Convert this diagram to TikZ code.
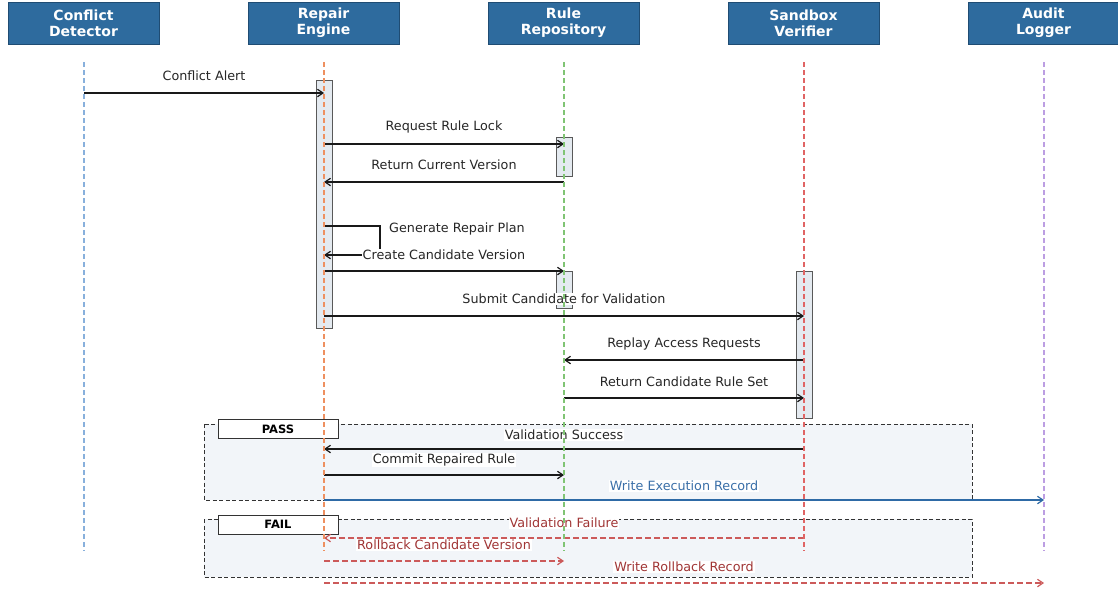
\documentclass[tikz,border=0pt]{standalone}
\usepackage{fontspec}
\setmainfont{DejaVu Sans}
\usetikzlibrary{arrows.meta}

\definecolor{hdrfill}{HTML}{2E6B9E}
\definecolor{hdrline}{HTML}{1F4C73}
\definecolor{lifeA}{HTML}{88B0DC}
\definecolor{lifeB}{HTML}{EE9060}
\definecolor{lifeC}{HTML}{80C474}
\definecolor{lifeD}{HTML}{E06464}
\definecolor{lifeE}{HTML}{BC9EE2}
\definecolor{actfill}{HTML}{E4EAF0}
\definecolor{framefill}{HTML}{F2F5F9}
\definecolor{okblue}{HTML}{2E6AA6}
\definecolor{okbluetext}{HTML}{3A6FA8}
\definecolor{failred}{HTML}{CC5A5A}
\definecolor{failredtext}{HTML}{A03535}

\tikzset{
  hdr/.style={draw=hdrline, line width=0.8pt, fill=hdrfill, text=white,
    minimum width=151pt, minimum height=42pt, inner sep=0pt, align=center,
    font=\fontsize{14}{16}\selectfont\bfseries},
  lifeline/.style={line width=1.2pt, dash pattern=on 5pt off 3pt},
  act/.style={draw=black!65, line width=1pt, fill=actfill, minimum width=16pt, inner sep=0pt},
  msg/.style={line width=1.4pt, black!90, -{Straight Barb[length=5.5pt,width=7.5pt,line width=1.2pt]}},
  okmsg/.style={msg, okblue},
  failmsg/.style={msg, failred, line width=1.3pt, dash pattern=on 6pt off 3pt},
  lbl/.style={fill=white, inner sep=1pt, font=\fontsize{12.75}{14}\selectfont, text=black!85},
  okl/.style={lbl, text=okbluetext},
  faill/.style={lbl, text=failredtext},
  frame/.style={draw=black!80, line width=1pt, dash pattern=on 4pt off 2.5pt, fill=framefill},
  tag/.style={draw=black!80, line width=1pt, fill=white, minimum width=120pt, minimum height=19pt,
    inner sep=0pt, font=\fontsize{11.5}{13}\selectfont\bfseries}
}

\begin{document}
\begin{tikzpicture}[x=1pt, y=-1pt]
\useasboundingbox (0,0) rectangle (1118,590);

% participants
\node[hdr] (cd) at (83.5,23)  {Conflict\\Detector};
\node[hdr] (re) at (323.5,23) {Repair\\Engine};
\node[hdr] (rr) at (563.5,23) {Rule\\Repository};
\node[hdr] (sv) at (803.5,23) {Sandbox\\Verifier};
\node[hdr] (al) at (1043.5,23) {Audit\\Logger};

% lifeline end points
\coordinate (cdT) at (84,62);   \coordinate (cdB) at (84,551);
\coordinate (reT) at (324,62);  \coordinate (reB) at (324,551);
\coordinate (rrT) at (564,62);  \coordinate (rrB) at (564,551);
\coordinate (svT) at (804,62);  \coordinate (svB) at (804,551);
\coordinate (alT) at (1044,62); \coordinate (alB) at (1044,551);

% combined fragments
\draw[frame] (204,424) rectangle (972,500);
\draw[frame] (204,519) rectangle (972,577);
\node[tag] (pass) at (278,429) {PASS};
\node[tag] (fail) at (278,524.5) {FAIL};

% activation bars
\node[act, minimum height=248pt] (actRE) at (324,204) {};
\node[act, minimum height=39pt]  (actRR1) at (564,156.5) {};
\node[act, minimum height=37pt]  (actRR2) at (564,289.5) {};
\node[act, minimum height=147pt] (actSV) at (804,344.5) {};

% messages
\draw[msg] (cdT |- 0,93) -- (reT |- 0,93);
\draw[msg] (reT |- 0,144) -- (rrT |- 0,144);
\draw[msg] (rrT |- 0,182) -- (reT |- 0,182);
\coordinate (loop) at (380,240);
\draw[msg] (reT |- 0,226) -| (loop |- 0,255) -- (reT |- 0,255);
\draw[msg] (reT |- 0,271) -- (rrT |- 0,271);
\draw[msg] (reT |- 0,316) -- (svT |- 0,316);
\draw[msg] (svT |- 0,360) -- (rrT |- 0,360);
\draw[msg] (rrT |- 0,398) -- (svT |- 0,398);
\draw[msg] (svT |- 0,449) -- (reT |- 0,449);
\draw[msg] (reT |- 0,475) -- (rrT |- 0,475);
\draw[okmsg] (reT |- 0,500) -- (alT |- 0,500);
\draw[failmsg] (svT |- 0,538) -- (reT |- 0,538);
\draw[failmsg] (reT |- 0,561) -- (rrT |- 0,561);
\draw[failmsg] (reT |- 0,583) -- (alT |- 0,583);

% message labels
\node[lbl] (t1)  at (204,76)  {Conflict Alert};
\node[lbl] (t2)  at (444,127) {Request Rule Lock};
\node[lbl] (t3)  at (444,165) {Return Current Version};
\node[lbl] (t4)  at (457,229) {Generate Repair Plan};
\node[lbl] (t5)  at (444,255) {Create Candidate Version};
\node[lbl] (t6)  at (564,299) {Submit Candidate for Validation};
\node[lbl] (t7)  at (684,344) {Replay Access Requests};
\node[lbl] (t8)  at (684,382) {Return Candidate Rule Set};
\node[lbl] (t9)  at (564,435) {Validation Success};
\node[lbl] (t10) at (444,460) {Commit Repaired Rule};
\node[okl] (t11) at (684,486) {Write Execution Record};
\node[faill] (t12) at (564,523) {Validation Failure};
\node[faill] (t13) at (444,545) {Rollback Candidate Version};
\node[faill] (t14) at (684,567) {Write Rollback Record};

% lifelines
\draw[lifeline, lifeA] (cdT) -- (cdB);
\draw[lifeline, lifeB] (reT) -- (reB);
\draw[lifeline, lifeC] (rrT) -- (rrB);
\draw[lifeline, lifeD] (svT) -- (svB);
\draw[lifeline, lifeE] (alT) -- (alB);
\end{tikzpicture}
\end{document}
